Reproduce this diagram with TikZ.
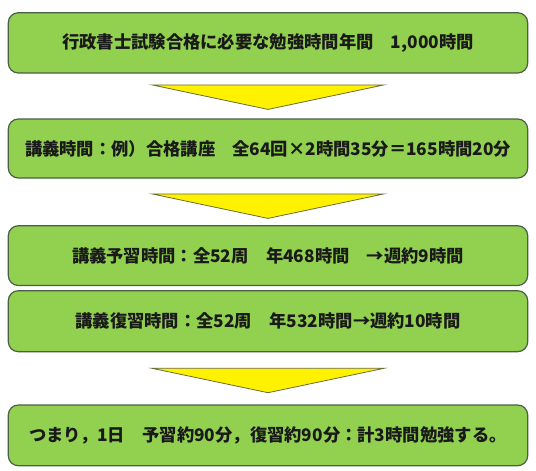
\documentclass[tikz,border=0pt]{standalone}
\usepackage{fontspec}
\newfontfamily\jp{Noto Sans CJK JP}
\usetikzlibrary{calc}
\definecolor{boxgreen}{HTML}{92D050}
\definecolor{boxline}{HTML}{4B5F45}
\definecolor{triline}{HTML}{6B6B3A}
\definecolor{txt}{HTML}{1A1A1A}
\tikzset{
  stepbox/.style={draw=boxline, line width=1.2pt, fill=boxgreen, rounded corners=10pt,
    minimum width=519.4pt, inner sep=0pt, text=txt,
    font=\jp\bfseries\fontsize{17.3pt}{20pt}\selectfont},
  tri/.style={draw=triline, line width=0.8pt, fill=yellow, line join=miter}
}
\begin{document}
\begin{tikzpicture}[x=1pt,y=-1pt]
\useasboundingbox (0,0) rectangle (536,471);
\node[stepbox, minimum height=60.3pt] (b1) at (268,42.85) {行政書士試験合格に必要な勉強時間年間　1,000時間};
\node[stepbox, minimum height=59pt] (b2) at (268,148.5) {講義時間：例）合格講座　全64回×2時間35分＝165時間20分};
\node[stepbox, minimum height=59.8pt] (b3) at (268,255.6) {講義予習時間：全52周　年468時間　→週約9時間};
\node[stepbox, minimum height=61pt] (b4) at (268,321.2) {講義復習時間：全52周　年532時間→週約10時間};
\node[stepbox, minimum height=60.7pt] (b5) at (268,435.35) {つまり，1日　予習約90分，復習約90分：計3時間勉強する。};
\draw[tri] ($(b1.south)+(-116,11.3)$) -- ($(b1.south)+(116,11.3)$) -- ($(b2.north)+(0,-9)$) -- cycle;
\draw[tri] ($(b2.south)+(-116,15.3)$) -- ($(b2.south)+(116,15.3)$) -- ($(b3.north)+(0,-6.7)$) -- cycle;
\draw[tri] ($(b4.south)+(-116,16)$) -- ($(b4.south)+(116,16)$) -- ($(b5.north)+(0,-11.7)$) -- cycle;
\end{tikzpicture}
\end{document}
